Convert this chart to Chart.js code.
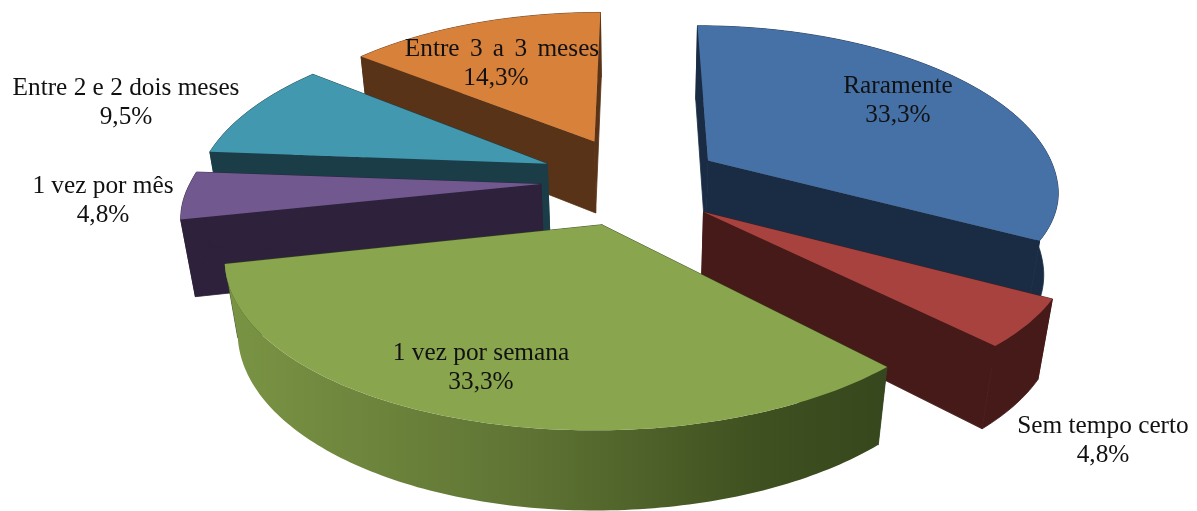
<!DOCTYPE html>
<html><head><meta charset="utf-8">
<style>html,body{margin:0;padding:0;background:#fff}#w{width:1197px;height:511px}</style>
<script src="https://cdn.jsdelivr.net/npm/chart.js@4"></script></head>
<body><div id="w"><canvas id="c" width="1197" height="511"></canvas></div>
<script>
const categories = ["Raramente","Sem tempo certo","1 vez por semana","1 vez por mês","Entre 2 e 2 dois meses","Entre 3 a 3 meses"];
const percentages = [33.3,4.8,33.3,4.8,9.5,14.3];
const percentLabels = ["33,3%","4,8%","33,3%","4,8%","9,5%","14,3%"];
const topColors = ["#4571a7","#a8423f","#89a54e","#71588f","#4198af","#d8813b"];
const sideColors = ["#1a2c44","#461a18","#36471d","#2e213b","#1a3d47","#583317"];
const explode = [85,84,110,95,97,100];
const sliceDrop = [0,9,-3,1,0,2];
const sliceDepth = [88,80,74,80,74,78];
const labelCentres = [[898,86],[1103,426],[481,353],[103,186],[126,88],[502,49]];
const percentShift = [0,0,0,0,0,-6];
const wordGaps = [0,0,0,0,0,4];
const view = {cx:636,cy:180,R:350,D:2000,kBack:0.47,kFront:0.43,m:0.97,a:0.8};

function project(u,v,z,drop){
  const w = view.D/(view.D - v + view.a*z);
  const k = v<0 ? view.kBack : view.kFront;
  return [view.cx + u*w, view.cy + drop + (k*v + view.m*z)*w];
}
function poly(ctx,pts,fill,seal){
  ctx.beginPath();
  pts.forEach((p,i)=> i? ctx.lineTo(p[0],p[1]) : ctx.moveTo(p[0],p[1]));
  ctx.closePath();
  ctx.fillStyle = fill; ctx.fill();
  if(seal){ ctx.strokeStyle = fill; ctx.lineWidth = 0.8; ctx.stroke(); }
}
const pie3d = {
  id:'pie3d',
  beforeDatasetDraw(chart){
    const ctx = chart.ctx, arcs = chart.getDatasetMeta(0).data;
    const slices = arcs.map((arc,i)=>{
      const p = arc.getProps(['startAngle','endAngle']);
      const mid = (p.startAngle+p.endAngle)/2;
      const off = arc.options.offset;
      return {i,start:p.startAngle,end:p.endAngle,ax:off*Math.cos(mid),ay:off*Math.sin(mid)};
    }).sort((a,b)=>a.ay-b.ay);
    slices.forEach(s=>{
      const rim = [], n = Math.max(8,Math.ceil((s.end-s.start)*60));
      for(let j=0;j<=n;j++){
        const t = s.start+(s.end-s.start)*j/n;
        rim.push([s.ax+view.R*Math.cos(t), s.ay+view.R*Math.sin(t)]);
      }
      const drop = sliceDrop[s.i], d = sliceDepth[s.i];
      const at = (q,z)=>project(q[0],q[1],z,drop), apex=[s.ax,s.ay];
      const side = sideColors[s.i];
      poly(ctx,[at(apex,0),at(rim[0],0),at(rim[0],d),at(apex,d)],side,true);
      poly(ctx,[at(apex,0),at(rim[n],0),at(rim[n],d),at(apex,d)],side,true);
      let wall = side;
      if(s.i===2){
        const L=at(rim[n],0)[0], Rr=at(rim[0],0)[0];
        wall = ctx.createLinearGradient(L,0,Rr,0);
        wall.addColorStop(0,"#7a9444");
        wall.addColorStop(0.45,"#5f7434");
        wall.addColorStop(0.8,"#3f5120");
        wall.addColorStop(1,"#36471d");
      }
      const wp = rim.map(q=>at(q,0)).concat(rim.slice().reverse().map(q=>at(q,d)));
      poly(ctx,wp,wall,s.i!==2);
      poly(ctx,[at(apex,0)].concat(rim.map(q=>at(q,0))),topColors[s.i],false);
    });
    return false;
  },
  afterDraw(chart){
    const ctx = chart.ctx;
    ctx.save();
    ctx.font = '25.3px "Liberation Serif"';
    ctx.fillStyle = '#111';
    ctx.textAlign = 'center'; ctx.textBaseline = 'middle';
    categories.forEach((c,i)=>{
      const [x,y] = labelCentres[i];
      ctx.wordSpacing = wordGaps[i]+'px';
      ctx.fillText(c,x,y);
      ctx.wordSpacing = '0px';
      ctx.fillText(percentLabels[i],x+percentShift[i],y+29);
    });
    ctx.restore();
  }
};
new Chart(document.getElementById('c'),{
  type:'pie',
  data:{labels:categories,datasets:[{data:percentages,backgroundColor:topColors,offset:explode,borderWidth:0}]},
  options:{responsive:false,animation:false,plugins:{legend:{display:false},tooltip:{enabled:false}}},
  plugins:[pie3d]
});
</script></body></html>
